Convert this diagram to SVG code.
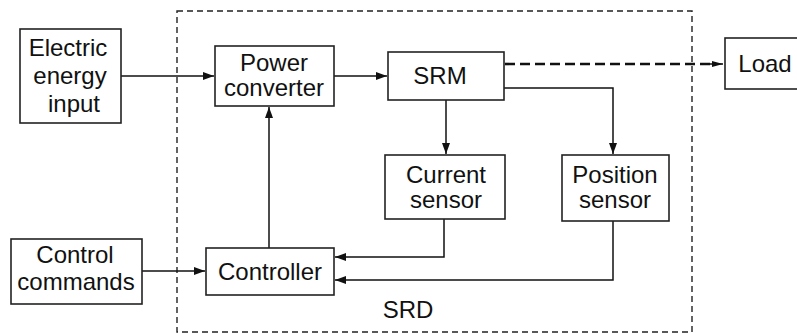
<svg xmlns="http://www.w3.org/2000/svg" width="797" height="333" viewBox="0 0 797 333">
<defs>
<style>
.box{fill:#fff;stroke:#222;stroke-width:1.6}
.t{font-family:"Liberation Sans",Arial,sans-serif;font-size:24px;fill:#111;text-anchor:middle}
.ln{fill:none;stroke:#111;stroke-width:1.5}
</style>
<marker id="ah" markerWidth="11" markerHeight="8" refX="11" refY="4" orient="auto" markerUnits="userSpaceOnUse">
<path d="M0,0 L11,4 L0,8 Z" fill="#111"/>
</marker>
<marker id="ah2" markerWidth="11" markerHeight="8" refX="11" refY="4" orient="auto" markerUnits="userSpaceOnUse">
<path d="M0,1 L11,4 L0,7 Z" fill="#111"/>
</marker>
</defs>
<g id="srd">
<rect x="177" y="11" width="515" height="321" fill="none" stroke="#222" stroke-width="1.4" stroke-dasharray="6,4"/>
<text class="t" x="408" y="318">SRD</text>
</g>
<g id="connectors">
<path class="ln" d="M121,76 L214,76" marker-end="url(#ah)"/>
<path class="ln" d="M334,76 L387,76" marker-end="url(#ah)"/>
<path fill="none" stroke="#111" stroke-width="2.6" stroke-dasharray="10,5" d="M505,64 L712,64"/>
<path class="ln" d="M708,64 L723,64" marker-end="url(#ah2)"/>
<path class="ln" d="M446,100 L446,154" marker-end="url(#ah)"/>
<path class="ln" d="M504,88 L613,88 L613,154" marker-end="url(#ah)"/>
<path class="ln" d="M269,248 L269,107" marker-end="url(#ah)"/>
<path class="ln" d="M142,271 L205,271" marker-end="url(#ah)"/>
<path class="ln" d="M444,219 L444,257 L335,257" marker-end="url(#ah)"/>
<path class="ln" d="M613,221 L613,280 L335,280" marker-end="url(#ah)"/>
</g>
<g id="electric">
<rect class="box" x="20" y="29" width="101" height="94"/>
<text class="t" x="68" y="56">Electric</text>
<text class="t" x="70" y="84">energy</text>
<text class="t" x="74" y="112">input</text>
</g>
<g id="power">
<rect class="box" x="215" y="46" width="119" height="60"/>
<text class="t" x="274" y="71">Power</text>
<text class="t" x="274" y="96">converter</text>
</g>
<g id="srm">
<rect class="box" x="388" y="52" width="116" height="48"/>
<text class="t" x="440" y="84">SRM</text>
</g>
<g id="load">
<rect class="box" x="725" y="38" width="80" height="51"/>
<text class="t" x="765" y="72">Load</text>
</g>
<g id="current">
<rect class="box" x="385" y="155" width="120" height="64"/>
<text class="t" x="446" y="183">Current</text>
<text class="t" x="446" y="208">sensor</text>
</g>
<g id="position">
<rect class="box" x="562" y="155" width="107" height="66"/>
<text class="t" x="615" y="183">Position</text>
<text class="t" x="615" y="208">sensor</text>
</g>
<g id="control">
<rect class="box" x="11" y="239" width="131" height="65"/>
<text class="t" x="75" y="263">Control</text>
<text class="t" x="76" y="290">commands</text>
</g>
<g id="controller">
<rect class="box" x="206" y="248" width="128" height="47"/>
<text class="t" x="270" y="280">Controller</text>
</g>
</svg>
